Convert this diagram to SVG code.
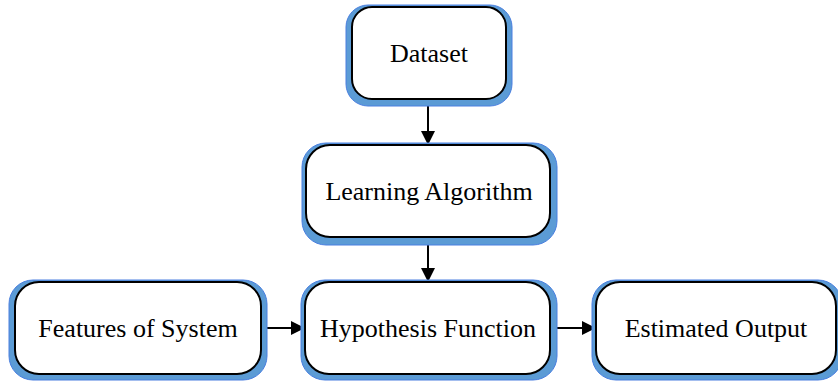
<svg xmlns="http://www.w3.org/2000/svg" width="838" height="385" viewBox="0 0 838 385">
<style>
.sh{fill:#5b9bd5;stroke:#4a7fe0;stroke-width:1}
.bx{fill:#ffffff;stroke:#000000;stroke-width:2}
.c{stroke:#000000;stroke-width:2;fill:none}
</style>
<defs>
<marker id="ah2" viewBox="0 0 10 10" refX="10" refY="5" markerWidth="7" markerHeight="7" orient="auto">
<path d="M0,0 L10,5 L0,10 z" fill="#000000"/>
</marker>
</defs>
<g id="connectors">
<line class="c" x1="428" y1="99" x2="428" y2="145" marker-end="url(#ah2)"/>
<line class="c" x1="428" y1="237" x2="428" y2="282" marker-end="url(#ah2)"/>
<line class="c" x1="261" y1="328" x2="305" y2="328" marker-end="url(#ah2)"/>
<line class="c" x1="550" y1="328" x2="596" y2="328" marker-end="url(#ah2)"/>
</g>
<g font-family="'Liberation Serif', 'Times New Roman', serif" font-size="26" fill="#000000" text-anchor="middle">
<g id="dataset">
<rect class="sh" x="346" y="5" width="166" height="101" rx="22"/>
<rect class="bx" x="352" y="7" width="154" height="92" rx="20"/>
<text x="429" y="62">Dataset</text>
</g>
<g id="learning">
<rect class="sh" x="302" y="143" width="255" height="102" rx="24"/>
<rect class="bx" x="306" y="145" width="244" height="92" rx="24"/>
<text x="429" y="200">Learning Algorithm</text>
</g>
<g id="features">
<rect class="sh" x="9" y="280" width="258" height="100" rx="24"/>
<rect class="bx" x="15" y="282" width="246" height="92" rx="24"/>
<text x="138" y="337">Features of System</text>
</g>
<g id="hypothesis">
<rect class="sh" x="301" y="280" width="256" height="100" rx="24"/>
<rect class="bx" x="305" y="282" width="245" height="92" rx="24"/>
<text x="428" y="337">Hypothesis Function</text>
</g>
<g id="estimated">
<rect class="sh" x="592" y="280" width="250" height="100" rx="24"/>
<rect class="bx" x="596" y="282" width="240" height="92" rx="24"/>
<text x="716" y="337">Estimated Output</text>
</g>
</g>
</svg>
